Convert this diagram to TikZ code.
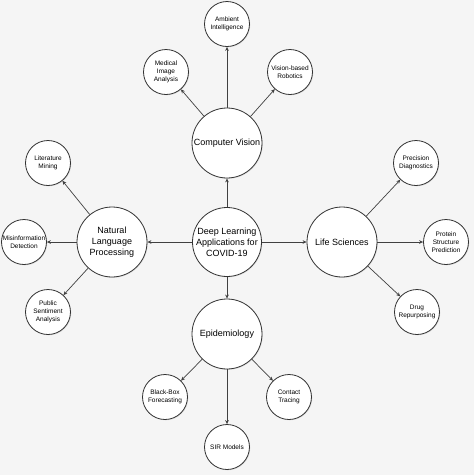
\documentclass[tikz,border=0pt]{standalone}
\usepackage{fontspec}
\setmainfont{Liberation Sans}
\usetikzlibrary{
  arrows.meta,
  positioning,
  shadows
}
\definecolor{dlBack}{HTML}{F5F5F5}
\definecolor{dlLine}{HTML}{333333}
\definecolor{dlArrow}{HTML}{404040}
\tikzset{
  dlnode/.style={
    draw=dlLine, circle, fill=white, line width=0.8pt, inner sep=0pt, align=center,
    drop shadow={shadow xshift=0.8pt, shadow yshift=-0.8pt, opacity=0.2}
  },
  hub/.style={dlnode, minimum size=69pt, font=\fontsize{9}{11}\selectfont},
  topic/.style={dlnode, minimum size=70pt, font=\fontsize{9}{11}\selectfont},
  leaf/.style={dlnode, minimum size=45pt, font=\fontsize{6.5}{7.8}\selectfont},
  link/.style={-{Stealth[length=4pt, width=3.6pt]}, line width=0.7pt, dlArrow}
}

\begin{document}
\begin{tikzpicture}[x=1pt, y=1pt, on grid]
  \fill[dlBack] (0,0) rectangle (474,-475);
  \useasboundingbox (0,0) rectangle (474,-475);

  \node[hub] (hub) at (227,-242) {Deep Learning\\Applications for\\COVID-19};
  \node[topic, above=99pt of hub] (cv) {Computer Vision};
  \node[topic, left=115pt of hub] (nlp) {Natural\\Language\\Processing};
  \node[topic, right=115pt of hub] (life) {Life Sciences};
  \node[topic, below=92pt of hub] (epi) {Epidemiology};

  % computer vision
  \node[leaf, above=119pt of cv] (ambient) {Ambient\\Intelligence};
  \node[leaf, above left=71pt and 61pt of cv] (medical) {Medical\\Image\\Analysis};
  \node[leaf, above right=71pt and 63pt of cv] (robotics) {Vision-based\\Robotics};

  % natural language processing
  \node[leaf, above left=79pt and 64pt of nlp] (litmining) {Literature\\Mining};
  \node[leaf, left=88pt of nlp] (misinfo) {Misinformation\\Detection};
  \node[leaf, below left=70pt and 64pt of nlp] (sentiment) {Public\\Sentiment\\Analysis};

  % life sciences
  \node[leaf, above right=79pt and 74pt of life] (precision) {Precision\\Diagnostics};
  \node[leaf, right=104pt of life] (protein) {Protein\\Structure\\Prediction};
  \node[leaf, below right=70pt and 75pt of life] (drug) {Drug\\Repurposing};

  % epidemiology
  \node[leaf, below left=63pt and 62pt of epi] (blackbox) {Black-Box\\Forecasting};
  \node[leaf, below=113pt of epi] (sir) {SIR Models};
  \node[leaf, below right=63pt and 62pt of epi] (tracing) {Contact\\Tracing};

  \foreach \src/\dst in {hub/cv, hub/nlp, hub/life, hub/epi,
      cv/ambient, cv/medical, cv/robotics,
      nlp/litmining, nlp/misinfo, nlp/sentiment,
      life/precision, life/protein, life/drug,
      epi/blackbox, epi/sir, epi/tracing}
    \draw[link] (\src) -- (\dst);
\end{tikzpicture}
\end{document}
